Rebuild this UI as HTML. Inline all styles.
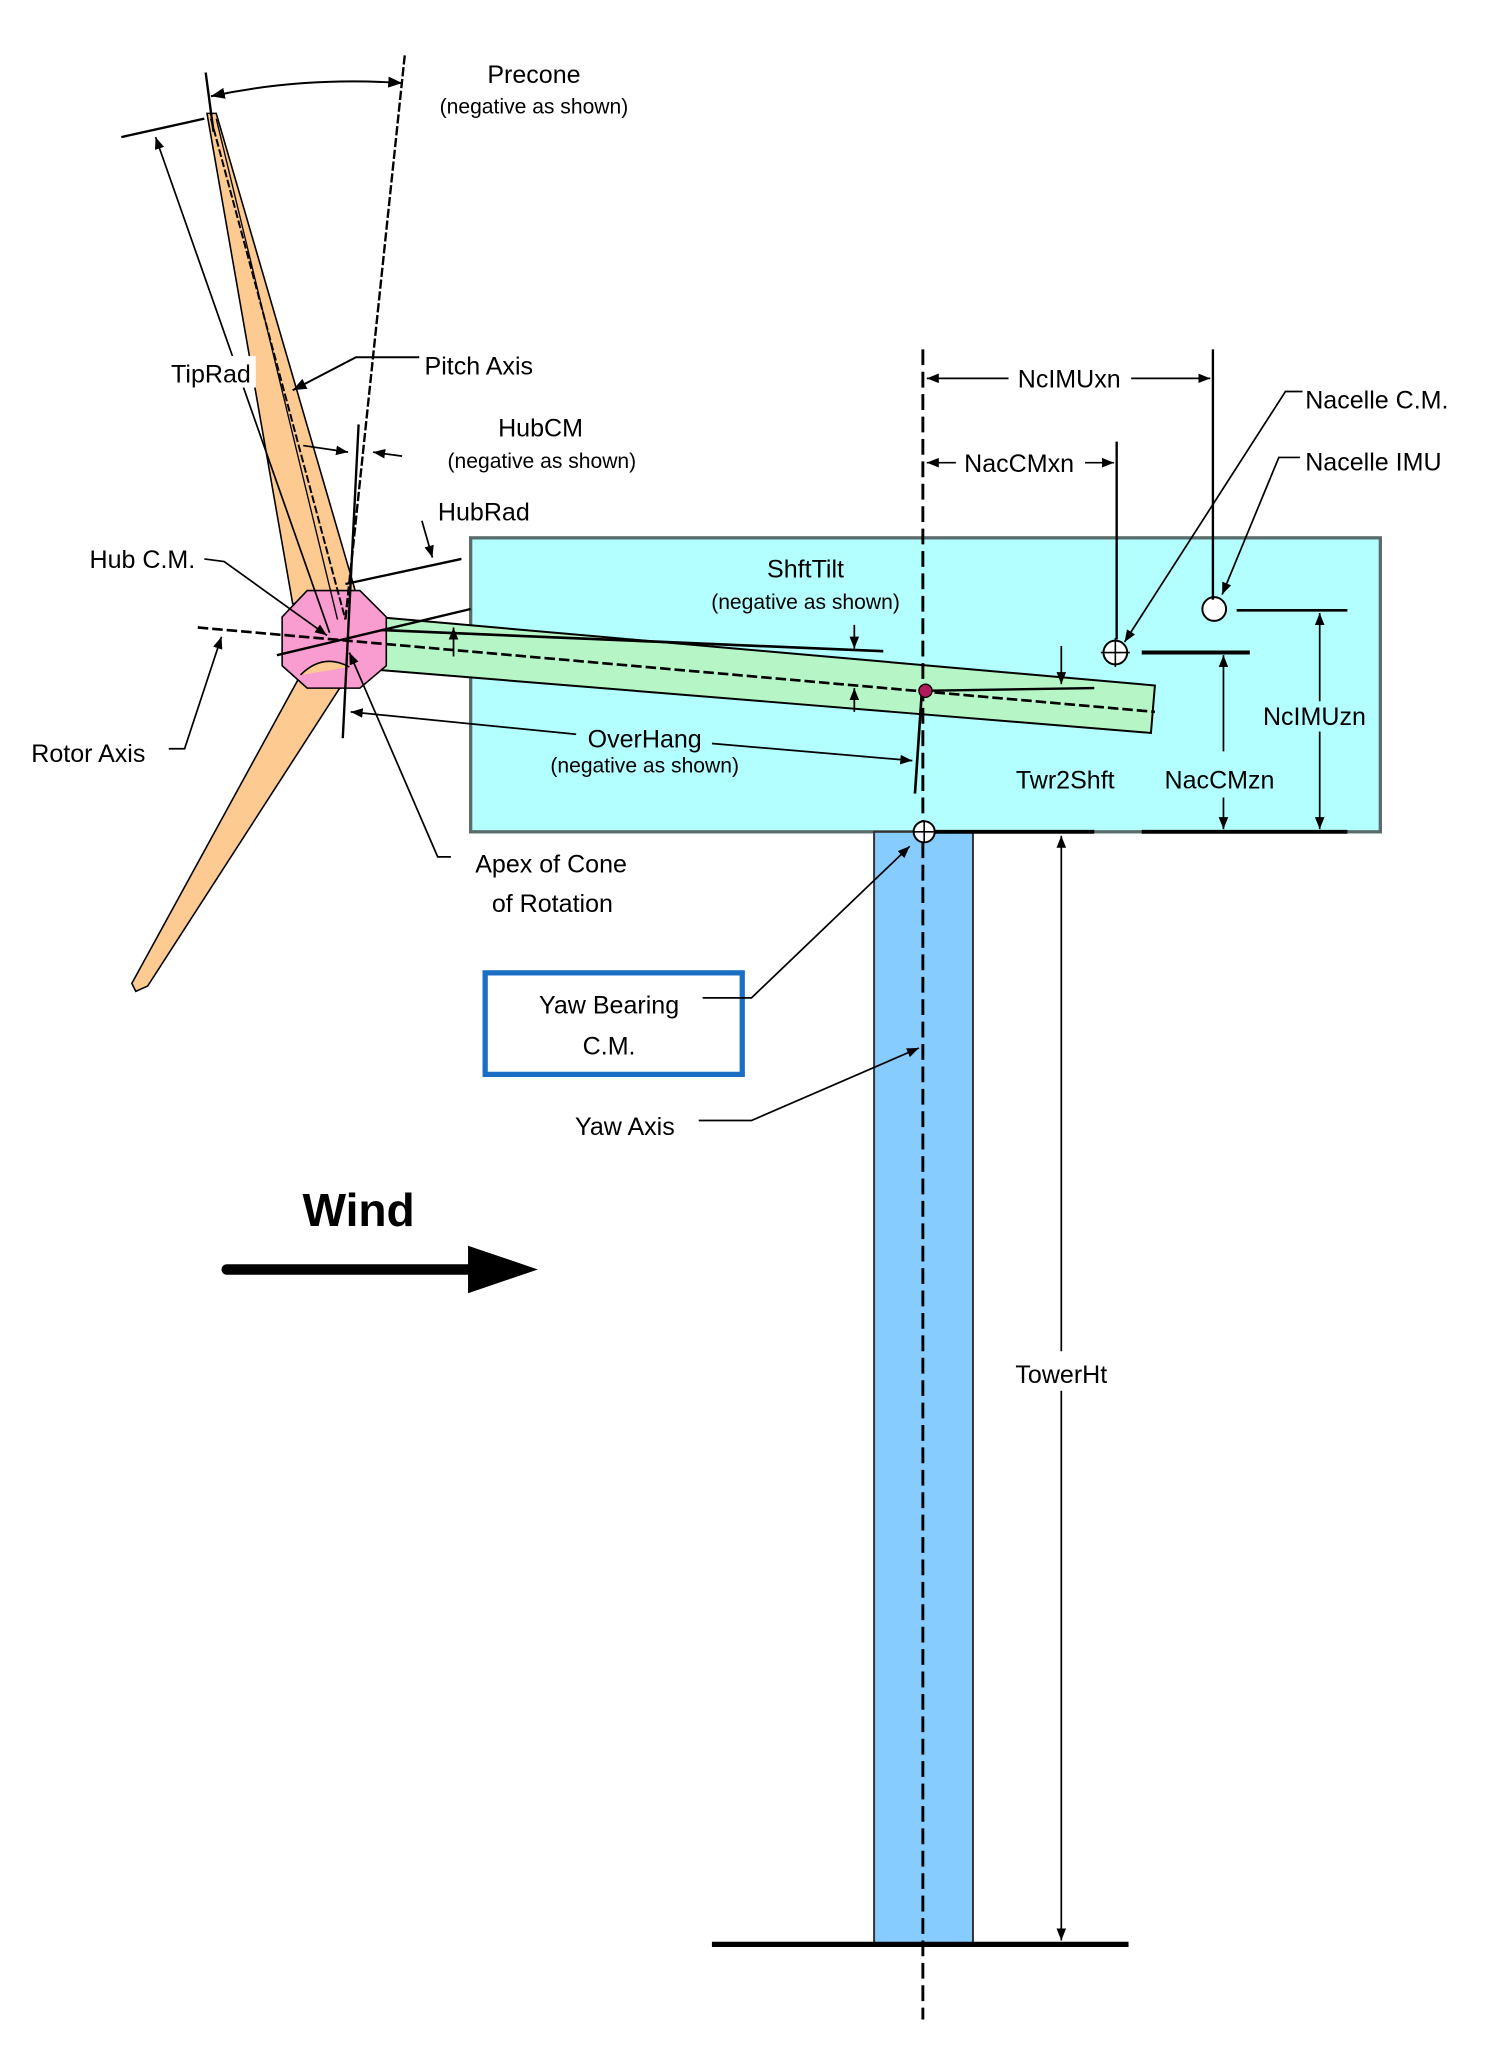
<!DOCTYPE html>
<html><head><meta charset="utf-8"><style>
html,body{margin:0;padding:0;background:#fff;}
svg{display:block;}
text{font-family:"Liberation Sans",sans-serif;fill:#000;}
</style></head><body>
<svg width="1499" height="2067" viewBox="0 0 1137 1568" preserveAspectRatio="none" xmlns="http://www.w3.org/2000/svg">
<defs>
<marker id="a" viewBox="0 0 10 10" refX="10" refY="5" markerWidth="7" markerHeight="7" orient="auto-start-reverse"><path d="M0,1 L10,5 L0,9 z" fill="#000"/></marker>
</defs>
<rect x="357" y="408" width="690" height="223" fill="#b3ffff" stroke="#5a6b6b" stroke-width="2.5"/>
<rect x="663" y="631" width="75" height="844" fill="#86ccff" stroke="#333" stroke-width="1.5"/>
<line x1="540" y1="1475" x2="856" y2="1475" stroke="#000" stroke-width="4"/>
<polygon points="285,468 876,520 873,556 285,508" fill="#b6f5c6" stroke="#000" stroke-width="1.5"/>
<polygon points="157,86 164,86 270,450 222,458" fill="#fdca92" stroke="#000" stroke-width="1.2"/>
<polygon points="228,512 252,500 268,506 112,748 103,752 100,746" fill="#fdca92" stroke="#000" stroke-width="1.2"/>
<polygon points="233,448 273,448 293,468 293,505 273,522 233,522 214,505 214,468" fill="#f99ccf" stroke="#000" stroke-width="1.2"/>
<path d="M228,512 Q245,495 265,506" fill="#fdca92" stroke="#000" stroke-width="1.2"/>
<line x1="160" y1="90" x2="262" y2="470" stroke="#000" stroke-width="1.5" stroke-dasharray="6,2"/>
<line x1="164" y1="90" x2="256" y2="470" stroke="#000" stroke-width="1"/>
<line x1="307" y1="42" x2="262" y2="470" stroke="#000" stroke-width="1.8" stroke-dasharray="7,2"/>
<line x1="156" y1="55" x2="162" y2="100" stroke="#000" stroke-width="1.8"/>
<line x1="272" y1="322" x2="260" y2="560" stroke="#000" stroke-width="1.8"/>
<path d="M160,73 Q230,58 305,63" fill="none" stroke="#000" stroke-width="1.5" marker-start="url(#a)" marker-end="url(#a)"/>
<text x="405" y="63" font-size="19" text-anchor="middle">Precone</text>
<text x="405" y="86" font-size="16" text-anchor="middle">(negative as shown)</text>
<line x1="92" y1="104" x2="155" y2="90" stroke="#000" stroke-width="1.8"/>
<line x1="118" y1="104" x2="250" y2="480" stroke="#000" stroke-width="1.3" marker-start="url(#a)"/>
<rect x="124" y="270" width="70" height="24" fill="#fff"/>
<text x="160" y="290" font-size="19" text-anchor="middle">TipRad</text>
<polyline points="318,271 270,271 222,296" fill="none" stroke="#000" stroke-width="1.5" marker-end="url(#a)"/>
<text x="322" y="284" font-size="19">Pitch Axis</text>
<text x="410" y="331" font-size="19" text-anchor="middle">HubCM</text>
<text x="411" y="355" font-size="16" text-anchor="middle">(negative as shown)</text>
<line x1="230" y1="338" x2="264" y2="343" stroke="#000" stroke-width="1.3" marker-end="url(#a)"/>
<line x1="305" y1="346" x2="283" y2="343" stroke="#000" stroke-width="1.3" marker-end="url(#a)"/>
<text x="367" y="395" font-size="19" text-anchor="middle">HubRad</text>
<line x1="320" y1="395" x2="328" y2="423" stroke="#000" stroke-width="1.3" marker-end="url(#a)"/>
<line x1="262" y1="443" x2="350" y2="424" stroke="#000" stroke-width="1.8"/>
<line x1="210" y1="497" x2="357" y2="462" stroke="#000" stroke-width="1.8"/>
<text x="108" y="431" font-size="19" text-anchor="middle">Hub C.M.</text>
<polyline points="155,424 170,426 248,482" fill="none" stroke="#000" stroke-width="1.3" marker-end="url(#a)"/>
<line x1="150" y1="476" x2="876" y2="540" stroke="#000" stroke-width="2" stroke-dasharray="8,3"/>
<text x="67" y="578" font-size="19" text-anchor="middle">Rotor Axis</text>
<polyline points="128,568 140,568 168,483" fill="none" stroke="#000" stroke-width="1.3" marker-end="url(#a)"/>
<text x="418" y="662" font-size="19" text-anchor="middle">Apex of Cone</text>
<text x="419" y="692" font-size="19" text-anchor="middle">of Rotation</text>
<polyline points="342,650 332,650 265,495" fill="none" stroke="#000" stroke-width="1.3" marker-end="url(#a)"/>
<text x="611" y="438" font-size="19" text-anchor="middle">ShftTilt</text>
<text x="611" y="462" font-size="16" text-anchor="middle">(negative as shown)</text>
<line x1="290" y1="478" x2="670" y2="494" stroke="#000" stroke-width="2"/>
<line x1="648" y1="474" x2="648" y2="492" stroke="#000" stroke-width="1.3" marker-end="url(#a)"/>
<line x1="648" y1="540" x2="648" y2="522" stroke="#000" stroke-width="1.3" marker-end="url(#a)"/>
<line x1="344" y1="498" x2="344" y2="476" stroke="#000" stroke-width="1.3" marker-end="url(#a)"/>
<line x1="700" y1="524" x2="830" y2="522" stroke="#000" stroke-width="1.8"/>
<line x1="805" y1="490" x2="805" y2="519" stroke="#000" stroke-width="1.3" marker-end="url(#a)"/>
<text x="489" y="567" font-size="19" text-anchor="middle">OverHang</text>
<text x="489" y="586" font-size="16" text-anchor="middle">(negative as shown)</text>
<line x1="437" y1="557" x2="266" y2="540" stroke="#000" stroke-width="1.3" marker-end="url(#a)"/>
<line x1="540" y1="564" x2="692" y2="577" stroke="#000" stroke-width="1.3" marker-end="url(#a)"/>
<line x1="699" y1="528" x2="694" y2="602" stroke="#000" stroke-width="2"/>
<line x1="700" y1="265" x2="700" y2="1532" stroke="#000" stroke-width="2.2" stroke-dasharray="12,5"/>
<circle cx="702" cy="524" r="5" fill="#b0195a" stroke="#000" stroke-width="1"/>
<circle cx="846" cy="495" r="9" fill="#fff" stroke="#000" stroke-width="1.5"/>
<line x1="835" y1="495" x2="857" y2="495" stroke="#000" stroke-width="1.2"/>
<line x1="846" y1="484" x2="846" y2="506" stroke="#000" stroke-width="1.2"/>
<circle cx="921" cy="462" r="9" fill="#fff" stroke="#000" stroke-width="1.5"/>
<line x1="938" y1="463" x2="1022" y2="463" stroke="#000" stroke-width="2"/>
<line x1="866" y1="495" x2="948" y2="495" stroke="#000" stroke-width="3"/>
<line x1="700" y1="631" x2="830" y2="631" stroke="#000" stroke-width="3"/>
<line x1="866" y1="631" x2="1022" y2="631" stroke="#000" stroke-width="3"/>
<line x1="1001" y1="532" x2="1001" y2="465" stroke="#000" stroke-width="1.3" marker-end="url(#a)"/>
<line x1="1001" y1="555" x2="1001" y2="629" stroke="#000" stroke-width="1.3" marker-end="url(#a)"/>
<text x="997" y="550" font-size="19" text-anchor="middle">NcIMUzn</text>
<line x1="928" y1="570" x2="928" y2="497" stroke="#000" stroke-width="1.3" marker-end="url(#a)"/>
<line x1="928" y1="605" x2="928" y2="629" stroke="#000" stroke-width="1.3" marker-end="url(#a)"/>
<text x="925" y="598" font-size="19" text-anchor="middle">NacCMzn</text>
<text x="808" y="598" font-size="19" text-anchor="middle">Twr2Shft</text>
<line x1="920" y1="265" x2="920" y2="455" stroke="#000" stroke-width="1.8"/>
<line x1="765" y1="287" x2="703" y2="287" stroke="#000" stroke-width="1.3" marker-end="url(#a)"/>
<line x1="858" y1="287" x2="918" y2="287" stroke="#000" stroke-width="1.3" marker-end="url(#a)"/>
<text x="811" y="294" font-size="19" text-anchor="middle">NcIMUxn</text>
<line x1="847" y1="335" x2="847" y2="485" stroke="#000" stroke-width="1.8"/>
<line x1="725" y1="351" x2="703" y2="351" stroke="#000" stroke-width="1.3" marker-end="url(#a)"/>
<line x1="823" y1="351" x2="845" y2="351" stroke="#000" stroke-width="1.3" marker-end="url(#a)"/>
<text x="773" y="358" font-size="19" text-anchor="middle">NacCMxn</text>
<text x="990" y="310" font-size="19">Nacelle C.M.</text>
<polyline points="988,297 975,297 853,487" fill="none" stroke="#000" stroke-width="1.3" marker-end="url(#a)"/>
<text x="990" y="357" font-size="19">Nacelle IMU</text>
<polyline points="986,347 970,347 927,451" fill="none" stroke="#000" stroke-width="1.3" marker-end="url(#a)"/>
<circle cx="701" cy="631" r="8" fill="#fff" stroke="#000" stroke-width="1.5"/>
<line x1="693" y1="631" x2="709" y2="631" stroke="#000" stroke-width="1.2"/>
<line x1="701" y1="623" x2="701" y2="639" stroke="#000" stroke-width="1.2"/>
<rect x="368" y="738" width="195" height="77" fill="#fff" stroke="#1a6fc4" stroke-width="4"/>
<text x="462" y="769" font-size="19" text-anchor="middle">Yaw Bearing</text>
<text x="462" y="800" font-size="19" text-anchor="middle">C.M.</text>
<polyline points="533,757 570,757 690,642" fill="none" stroke="#000" stroke-width="1.3" marker-end="url(#a)"/>
<text x="474" y="861" font-size="19" text-anchor="middle">Yaw Axis</text>
<polyline points="530,850 570,850 697,795" fill="none" stroke="#000" stroke-width="1.3" marker-end="url(#a)"/>
<line x1="805" y1="1025" x2="805" y2="634" stroke="#000" stroke-width="1.3" marker-end="url(#a)"/>
<line x1="805" y1="1055" x2="805" y2="1472" stroke="#000" stroke-width="1.3" marker-end="url(#a)"/>
<text x="805" y="1049" font-size="19" text-anchor="middle">TowerHt</text>
<text x="272" y="930" font-size="35" font-weight="bold" text-anchor="middle">Wind</text>
<line x1="172" y1="963" x2="360" y2="963" stroke="#000" stroke-width="8" stroke-linecap="round"/>
<polygon points="355,945 408,963 355,981" fill="#000"/>
</svg>
</body></html>
